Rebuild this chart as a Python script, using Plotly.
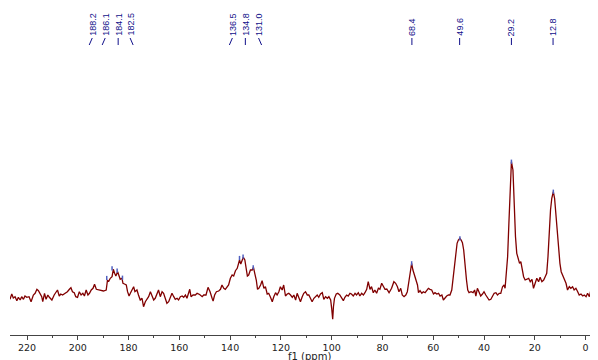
import plotly.graph_objects as go

# spectrum trace (chemical shift in ppm, intensity in arbitrary units)
ppm = [226.7, 226.0, 225.4, 224.7, 224.0, 223.4, 222.7, 222.1, 221.4, 220.8, 220.1, 219.2, 218.4, 217.5,
       216.8, 216.1, 215.5, 214.8, 214.2, 213.8, 213.1, 212.5, 211.8, 211.2, 210.2, 209.3, 208.6, 208.0,
       207.3, 206.7, 206.0, 205.0, 204.1, 203.3, 202.7, 202.1, 201.4, 200.8, 200.1, 199.4, 198.7, 198.0,
       197.4, 196.7, 196.0, 195.4, 194.7, 194.0, 193.4, 192.7, 191.8, 190.5, 189.9, 188.8, 188.3, 187.9,
       187.2, 186.5, 186.0, 185.5, 185.0, 184.3, 183.8, 183.3, 182.6, 182.2, 181.6, 180.9, 180.4, 179.8,
       179.3, 178.7, 178.0, 177.5, 176.7, 176.1, 175.4, 174.7, 174.1, 173.4, 172.7, 172.1, 171.4, 170.8,
       170.1, 169.5, 168.8, 168.2, 167.5, 166.8, 166.2, 165.5, 164.9, 164.2, 163.6, 162.9, 162.2, 161.6,
       160.9, 160.3, 159.6, 158.9, 158.3, 157.6, 157.0, 156.3, 155.9, 155.4, 154.6, 153.7, 153.0, 152.0,
       151.0, 150.4, 149.5, 148.7, 147.9, 147.1, 146.7, 146.1, 145.4, 144.5, 143.8, 143.2, 142.5, 141.9,
       141.2, 140.6, 139.9, 139.2, 138.6, 137.9, 137.2, 136.8, 136.3, 135.8, 135.3, 134.8, 134.2, 133.7,
       133.2, 132.7, 132.0, 131.3, 130.8, 130.3, 129.7, 129.2, 128.7, 128.0, 127.4, 126.7, 126.1, 125.4,
       124.8, 124.1, 123.4, 122.8, 122.1, 121.5, 120.8, 120.2, 119.5, 118.9, 118.2, 117.5, 116.9, 116.2,
       115.5, 114.9, 114.2, 113.6, 112.9, 112.3, 111.6, 111.0, 110.3, 109.6, 109.0, 108.3, 107.7, 107.0,
       106.4, 105.7, 105.1, 104.4, 103.7, 103.1, 102.4, 101.7, 101.1, 100.4, 100.0, 99.6, 99.3, 98.9,
       98.2, 97.6, 96.8, 96.1, 95.4, 94.8, 94.1, 93.5, 92.8, 92.2, 91.5, 90.8, 90.2, 89.5,
       88.9, 88.2, 87.5, 86.9, 86.2, 85.6, 84.9, 84.3, 83.6, 83.0, 82.3, 81.6, 81.0, 80.3,
       79.6, 79.0, 78.3, 77.4, 76.4, 75.5, 74.8, 74.1, 73.5, 72.8, 72.2, 71.5, 70.8, 70.2,
       69.5, 69.0, 68.5, 68.0, 67.4, 66.9, 66.2, 65.8, 65.2, 64.5, 63.9, 63.2, 62.6, 61.9,
       61.3, 60.6, 59.9, 59.3, 58.6, 57.9, 57.3, 56.6, 56.0, 55.3, 54.7, 54.0, 53.4, 52.7,
       52.2, 51.6, 51.1, 50.6, 50.1, 49.5, 49.0, 48.5, 48.0, 47.5, 46.9, 46.4, 45.9, 45.1,
       44.3, 43.7, 43.2, 42.6, 41.9, 41.3, 40.6, 40.0, 39.3, 38.6, 38.0, 37.3, 36.6, 36.0,
       35.3, 34.7, 34.0, 33.4, 32.7, 32.1, 31.7, 31.3, 30.7, 30.2, 29.7, 29.2, 28.6, 28.1,
       27.6, 27.1, 26.5, 26.0, 25.5, 25.0, 24.4, 23.8, 23.1, 22.4, 21.8, 21.1, 20.5, 19.8,
       19.2, 18.5, 17.9, 17.2, 16.5, 15.9, 15.3, 14.8, 14.3, 13.8, 13.3, 12.7, 12.2, 11.7,
       11.2, 10.6, 10.1, 9.6, 9.0, 8.4, 7.7, 7.1, 6.4, 5.8, 5.1, 4.5, 3.8, 3.1,
       2.5, 1.8, 1.1, 0.5, -0.2, -0.8, -1.5, -2.1, -2.8, -3.4, -4.1, -4.8]

intensity = [-2.3, 3.0, -1.0, 0.3, -3.7, -0.3, -3.0, 0.3, -2.3, 1.0, -0.3, 0.3, -4.7, 2.0,
             3.7, 7.7, 6.3, 3.7, 0.3, -4.7, 3.7, -2.3, 2.0, -0.3, -3.0, 2.0, 5.3, 7.0,
             1.0, 3.0, 2.0, 3.7, 5.3, 7.7, 9.3, 5.3, 4.3, 0.3, -0.3, 5.3, 2.0, 3.7,
             1.0, 7.0, 2.0, 3.7, 7.0, 8.7, 12.7, 7.7, 7.0, 6.3, 6.0, 7.0, 17.0, 15.3,
             18.7, 20.3, 27.7, 23.7, 21.0, 25.3, 20.3, 17.7, 18.7, 13.7, 13.0, 12.0, 5.3, 1.0,
             3.7, 7.7, 10.3, 5.3, 7.0, 2.0, -3.0, -1.3, -9.7, -4.7, -2.3, 0.3, 5.3, 2.0,
             -3.0, -1.3, 3.7, 7.0, 0.3, 5.3, 3.7, -2.3, -6.3, -4.7, -1.3, 3.7, 0.3, -2.3,
             -1.3, -3.0, 0.3, 1.0, -0.3, 2.0, -1.3, 5.3, 7.7, 0.3, 2.0, 2.0, 3.7, 2.5,
             0.3, 2.0, 2.0, 9.7, 5.3, -1.3, -4.0, 2.0, 5.3, 6.0, 7.7, 12.0, 8.7, 7.7,
             9.7, 12.0, 18.7, 22.0, 21.0, 26.3, 28.7, 32.0, 37.0, 33.0, 37.0, 39.7, 37.0, 30.3,
             21.0, 22.0, 27.0, 27.0, 29.7, 23.7, 17.0, 7.7, 8.7, 12.0, 16.3, 8.7, 10.3, 3.0,
             3.7, -0.3, -4.7, 0.3, 4.3, 2.0, 5.3, 10.3, 7.0, 12.0, 1.0, 3.0, 3.7, 2.0,
             -0.3, 2.0, -3.0, 3.7, -1.3, -4.7, 0.3, 3.7, 5.3, 2.0, 2.0, -1.3, -4.7, -1.3,
             0.3, 2.0, -0.3, 3.0, 4.3, -2.3, 0.3, -1.3, 0.3, -3.0, -11.3, -22.3, -9.7, -1.3,
             3.0, 3.7, 2.0, -1.3, -3.7, -0.3, 2.0, 1.0, 3.7, 3.0, 1.0, 3.7, 2.0, 4.3,
             1.0, 3.7, 2.0, 4.3, 7.7, 15.3, 7.7, 10.3, 4.3, 7.0, 3.7, 8.7, 7.7, 13.7,
             10.3, 7.7, 8.0, 4.3, 8.7, 15.3, 13.7, 10.3, 5.3, 8.7, 2.0, 0.3, 2.0, 5.3,
             17.0, 23.7, 33.7, 27.0, 22.0, 18.7, 12.0, 4.3, 6.3, 3.7, 5.3, 4.3, 7.0, 8.7,
             7.7, 7.0, 3.0, 4.3, 3.0, 3.7, 1.0, 2.0, -3.0, -0.3, 1.0, 2.0, 2.0, 7.0,
             18.7, 30.3, 43.7, 53.7, 57.0, 58.7, 57.0, 54.3, 47.0, 30.3, 17.0, 7.0, 4.3, 5.3,
             4.3, 7.0, 1.0, 8.7, 3.7, 1.0, 3.0, 5.3, 2.0, -0.3, -3.0, -2.3, 0.3, 3.7,
             4.3, 2.0, 3.7, 3.7, 10.3, 12.0, 8.7, 20.3, 40.3, 73.7, 107.0, 135.3, 127.0, 90.3,
             60.3, 43.7, 37.0, 33.7, 35.3, 27.0, 20.3, 17.0, 17.7, 18.7, 15.3, 17.7, 8.7, 13.7,
             18.7, 15.3, 19.7, 15.3, 17.0, 20.3, 23.7, 40.3, 67.0, 87.0, 98.7, 105.3, 98.7, 83.7,
             63.7, 47.0, 33.7, 25.3, 21.0, 18.7, 13.7, 7.0, 10.3, 8.7, 10.3, 7.0, 8.7, 5.3,
             2.0, 3.0, 1.0, 2.0, 0.3, 3.7, 0.3, 7.0, -4.7, -1.3, 7.0, 3.7]

# peak picking labels
peak_labels = ["188.2", "186.1", "184.1", "182.5", "136.5", "134.8", "131.0", "68.4", "49.6", "29.2", "12.8"]
label_ppm = [194.3, 189.2, 184.1, 179.4, 139.1, 134.0, 128.8, 68.4, 49.6, 29.2, 12.8]
connector_end_ppm = [195.5, 190.4, 184.1, 178.2, 140.3, 134.0, 127.6, 68.4, 49.6, 29.2, 12.8]
# picked peak tops (small markers on the trace)
peak_top_ppm = [188.6, 186.5, 184.5, 182.4, 136.3, 134.9, 130.9, 68.5, 49.5, 29.2, 12.7]
peak_top_int = [19.0, 28.7, 26.3, 19.3, 39.0, 40.3, 29.7, 33.7, 58.7, 135.3, 105.3]

tick_vals = [220, 200, 180, 160, 140, 120, 100, 80, 60, 40, 20, 0]
tick_text = [str(v) for v in tick_vals]

line_color = "#800000"
label_color = "#10108a"

fig = go.Figure()
fig.add_trace(go.Scatter(x=ppm, y=intensity, mode="lines",
                         line=dict(color=line_color, width=1.3), hoverinfo="skip"))
fig.add_trace(go.Scatter(x=peak_top_ppm, y=peak_top_int, mode="markers",
                         marker=dict(symbol="line-ns", size=3, color="#5060c0",
                                     line=dict(color="#5060c0", width=1.5)),
                         hoverinfo="skip"))

conn_top = 259
conn_bot = 252
for lab, lx, ex in zip(peak_labels, label_ppm, connector_end_ppm):
    fig.add_annotation(x=lx, y=conn_top + 1, xref="x", yref="y", text=lab, textangle=-90,
                       showarrow=False, xanchor="center", yanchor="bottom",
                       font=dict(family="Liberation Sans, Arial", size=9, color=label_color),
                       borderpad=0)
    fig.add_shape(type="line", xref="x", yref="y", x0=lx, y0=conn_top, x1=ex, y1=conn_bot,
                  line=dict(color=label_color, width=1))

fig.add_annotation(x=0.51, y=-0.067, xref="paper", yref="paper", text="f1 (ppm)",
                   showarrow=False, xanchor="center", yanchor="middle",
                   font=dict(family="DejaVu Sans, Verdana", size=10, color="#222222"))

fig.update_layout(
    width=598, height=360,
    margin=dict(l=2, r=8, t=0, b=33),
    paper_bgcolor="white", plot_bgcolor="white",
    showlegend=False,
    xaxis=dict(range=[226.7, -4.9], tickmode="array", tickvals=tick_vals, ticktext=tick_text,
               showgrid=False, zeroline=False, showline=True, linecolor="#444444", linewidth=1,
               ticks="outside", ticklen=4, tickcolor="#444444",
               tickfont=dict(family="DejaVu Sans, Verdana", size=9.5, color="#222222"),
               minor=dict(dtick=10, tick0=0, ticks="outside", ticklen=2, tickcolor="#444444", showgrid=False)),
    yaxis=dict(range=[-38, 289], visible=False, showgrid=False, zeroline=False),
)

fig.write_html("out.html")
